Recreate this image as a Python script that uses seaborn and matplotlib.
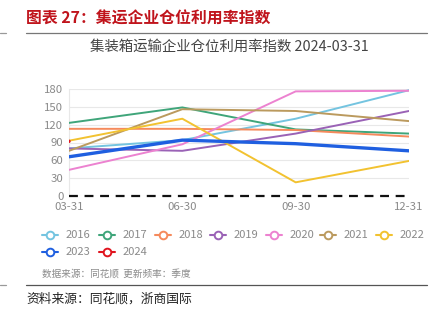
import matplotlib
matplotlib.use("Agg")
import matplotlib.pyplot as plt
from matplotlib.lines import Line2D
import seaborn as sns
import pandas as pd

# Quarter-end labels on the x axis
quarters = ["03-31", "06-30", "09-30", "12-31"]

# Utilisation index by year, one value per quarter end
v2016 = [80, 94, 130, 178]
v2017 = [123, 149, 112, 105]
v2018 = [113, 113, 111, 100]
v2019 = [80, 76, 105, 143]
v2020 = [44, 87, 176, 177]
v2021 = [76, 146, 143, 126]
v2022 = [93, 130, 23, 59]
v2023 = [66, 94, 88, 76]
v2024 = [92]

years = ["2016", "2017", "2018", "2019", "2020", "2021", "2022", "2023", "2024"]
series = [v2016, v2017, v2018, v2019, v2020, v2021, v2022, v2023, v2024]
colors = ["#74c4e0", "#3fa57a", "#f58a5c", "#9a62b6", "#ec82d0",
          "#bb9a5e", "#f2c230", "#1f5fe0", "#e0141e"]
yticks = [0, 30, 60, 90, 120, 150, 180]

rows = []
for yr, vals in zip(years, series):
    for i, v in enumerate(vals):
        rows.append({"year": yr, "q": i, "value": v})
df = pd.DataFrame(rows)

sns.set_style("white")
plt.rcParams["font.family"] = ["Noto Sans CJK SC", "DejaVu Sans"]

fig = plt.figure(figsize=(4.35, 3.26), dpi=100)
fig.patch.set_facecolor("white")

# Report heading and rules
fig.text(26 / 435, 1 - 19 / 326, "图表 27：集运企业仓位利用率指数", color="#c0141c",
         fontsize=11.4, fontweight="bold", va="center", ha="left")
fig.add_artist(Line2D([26 / 435, 427 / 435], [1 - 33 / 326] * 2, color="#777777", lw=0.9))
fig.add_artist(Line2D([0, 6 / 435], [1 - 33 / 326] * 2, color="#999999", lw=0.9))
fig.add_artist(Line2D([26 / 435, 427 / 435], [1 - 285 / 326] * 2, color="#555555", lw=0.9))
fig.add_artist(Line2D([0, 6 / 435], [1 - 285 / 326] * 2, color="#999999", lw=0.9))
fig.text(26 / 435, 1 - 299 / 326, "资料来源：同花顺，浙商国际", color="#222222",
         fontsize=9.2, va="center", ha="left")

# Chart title
fig.text(229 / 435, 1 - 47 / 326, "集装箱运输企业仓位利用率指数 2024-03-31", color="#444444",
         fontsize=10.4, va="center", ha="center")

ax = fig.add_axes([69 / 435, 130 / 326, 340 / 435, 107 / 326])
ax.set_facecolor("white")

multi = df[df["year"] != "2024"]
line_years = years[:-1]
sns.lineplot(data=multi, x="q", y="value", hue="year", hue_order=line_years,
             palette=dict(zip(years, colors)), ax=ax, legend=False, lw=1.4)
for ln, yr in zip(ax.get_lines(), line_years):
    if yr == "2023":
        ln.set_linewidth(2.4)
    ln.set_zorder(3)

single = df[df["year"] == "2024"]
sns.scatterplot(data=single, x="q", y="value", color=colors[-1], s=6,
                ax=ax, legend=False, zorder=4, edgecolor="none")

ax.axhline(0, color="#111111", lw=1.6, ls=(0, (4, 3)), zorder=5, clip_on=False)

ax.set_xlim(0, 3)
ax.set_ylim(0, 180)
ax.set_xticks(range(len(quarters)))
ax.set_xticklabels(quarters)
ax.set_yticks(yticks)
ax.yaxis.grid(True, color="#e8e8e8", lw=0.8)
ax.set_axisbelow(True)
for s in ["top", "right", "bottom"]:
    ax.spines[s].set_visible(False)
ax.spines["left"].set_color("#e8e8e8")
ax.spines["left"].set_linewidth(0.8)
ax.tick_params(axis="both", length=0, labelsize=8.2, labelcolor="#8a8a8a", pad=4)
ax.set_xlabel("")
ax.set_ylabel("")

# Legend with hollow-circle markers, two rows
row1 = 235
row2 = 252
xs = [50, 107, 163, 218, 274, 328, 384]
for i, yr in enumerate(years):
    if i < 7:
        cx, cy = xs[i], row1
    else:
        cx, cy = xs[i - 7], row2
    c = colors[i]
    fig.add_artist(Line2D([(cx - 8) / 435, (cx + 8) / 435], [1 - cy / 326] * 2,
                          color=c, lw=1.5))
    fig.add_artist(Line2D([cx / 435], [1 - cy / 326], color=c, marker="o",
                          markersize=5.5, markerfacecolor="white",
                          markeredgecolor=c, markeredgewidth=1.4, lw=0))
    fig.text((cx + 16) / 435, 1 - cy / 326, yr, color="#8a8a8a", fontsize=8,
             va="center", ha="left")

fig.text(42 / 435, 1 - 274 / 326, "数据来源：同花顺  更新频率：季度", color="#8a8a8a",
         fontsize=6.9, va="center", ha="left")

fig.savefig("out.png", dpi=100, facecolor="white")
